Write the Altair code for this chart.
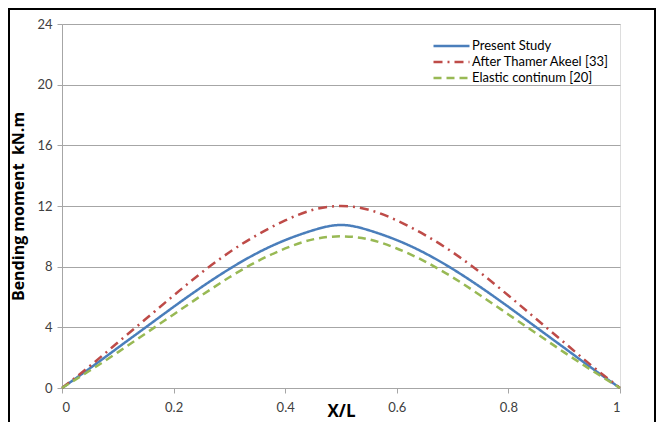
import altair as alt
import pandas as pd

xl = [0, 0.05, 0.1, 0.15, 0.2, 0.25, 0.3, 0.35, 0.4, 0.45, 0.5,
      0.55, 0.6, 0.65, 0.7, 0.75, 0.8, 0.85, 0.9, 0.95, 1]
present = [0, 1.3, 2.65, 4.0, 5.35, 6.65, 7.85, 8.9, 9.75, 10.4, 10.75,
           10.4, 9.75, 8.9, 7.85, 6.65, 5.35, 4.0, 2.65, 1.3, 0]
thamer = [0, 1.45, 3.0, 4.55, 6.1, 7.6, 8.95, 10.1, 11.05, 11.75, 12.0,
          11.75, 11.05, 10.1, 8.95, 7.6, 6.1, 4.55, 3.0, 1.45, 0]
elastic = [0, 1.15, 2.35, 3.6, 4.85, 6.1, 7.3, 8.35, 9.2, 9.8, 10.0,
           9.8, 9.2, 8.35, 7.3, 6.1, 4.85, 3.6, 2.35, 1.15, 0]

series = ["Present Study", "After Thamer Akeel [33]", "Elastic continum [20]"]
colors = ["#4A7EBB", "#BE4B48", "#98B954"]
dashes = [[1, 0], [9, 5, 2, 5], [8, 5]]

rows = []
for name, vals in zip(series, [present, thamer, elastic]):
    for xv, yv in zip(xl, vals):
        rows.append({"x": xv, "y": yv, "s": name})
df = pd.DataFrame(rows)

font = "Lato"

lines = alt.Chart(df).mark_line(strokeWidth=2.5, interpolate="natural").encode(
    x=alt.X("x:Q", scale=alt.Scale(domain=[0, 1], nice=False),
            axis=alt.Axis(title="X/L", values=[0, 0.2, 0.4, 0.6, 0.8, 1],
                          labelExpr="datum.value == 0 ? '0' : datum.value == 1 ? '1' : format(datum.value, '.1f')",
                          grid=False, domainColor="#A6A6A6", tickColor="#A6A6A6",
                          tickSize=5, labelPadding=8, titlePadding=-11,
                          labelFont=font, labelFontSize=13, labelColor="#404040",
                          titleFont="Open Sans", titleFontSize=17, titleFontWeight="bold",
                          titleColor="#000000")),
    y=alt.Y("y:Q", scale=alt.Scale(domain=[0, 24], nice=False),
            axis=alt.Axis(title="Bending moment\u00a0\u00a0kN.m", values=[0, 4, 8, 12, 16, 20, 24],
                          grid=True, gridColor="#A6A6A6", gridWidth=1,
                          domainColor="#A6A6A6", tickColor="#A6A6A6",
                          tickSize=5, labelPadding=5, titlePadding=10,
                          labelFont=font, labelFontSize=13, labelColor="#404040",
                          titleFont="Open Sans", titleFontSize=16, titleFontWeight="bold",
                          titleColor="#000000")),
    color=alt.Color("s:N", scale=alt.Scale(domain=series, range=colors),
                    legend=alt.Legend(title=None, orient="none", legendX=370, legendY=14,
                                      symbolType="stroke", symbolSize=1296,
                                      symbolStrokeWidth=2.5, labelFont=font,
                                      labelFontSize=13, labelColor="#000000",
                                      clipHeight=16, rowPadding=0, labelOffset=1,
                                      padding=0)),
    strokeDash=alt.StrokeDash("s:N", scale=alt.Scale(domain=series, range=dashes),
                              legend=None),
)

frame = alt.Chart(pd.DataFrame({"a": [0]})).mark_rect(
    fill=None, stroke="#000000", strokeWidth=2).encode(
    x=alt.value(-53), x2=alt.value(593), y=alt.value(-15), y2=alt.value(440))

chart = alt.layer(lines, frame).properties(
    width=558, height=364,
    autosize=alt.AutoSizeParams(type="none"),
    padding={"left": 54, "top": 16, "right": 36, "bottom": 34},
).configure_view(stroke=None).configure(background="white")

chart.save("out.html", embed_options={"renderer": "svg", "actions": False})
